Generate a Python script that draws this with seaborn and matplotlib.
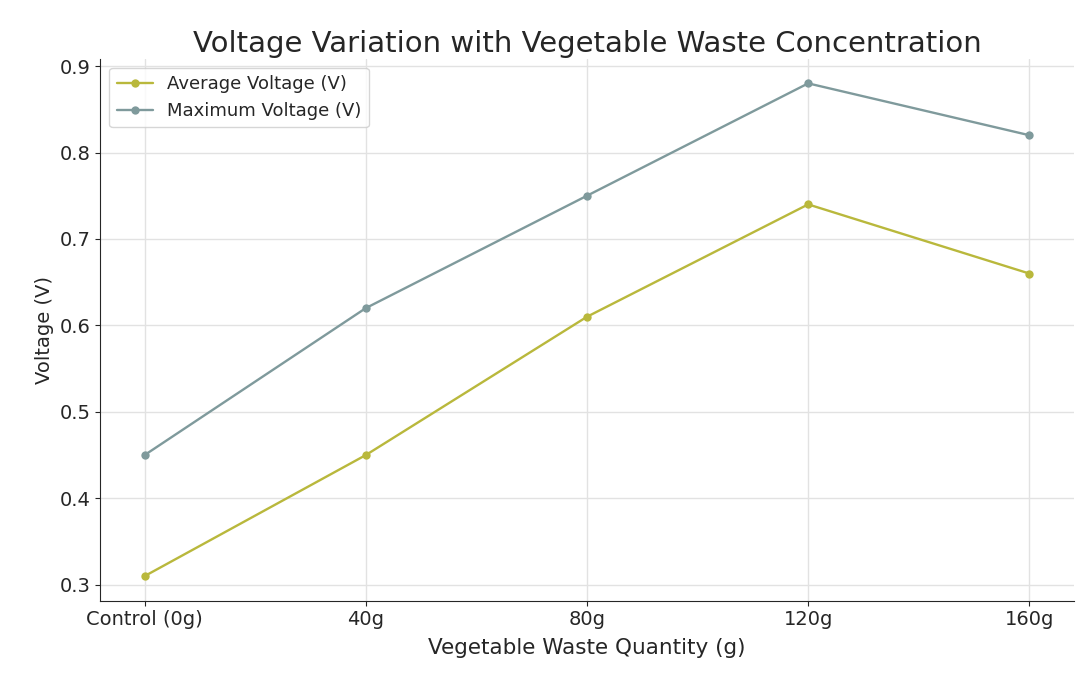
import pandas as pd
import matplotlib
matplotlib.use("Agg")
import matplotlib.pyplot as plt
import seaborn as sns

quantities = ["Control (0g)", "40g", "80g", "120g", "160g"]
avg_voltage = [0.31, 0.45, 0.61, 0.74, 0.66]
max_voltage = [0.45, 0.62, 0.75, 0.88, 0.82]

df = pd.DataFrame({
    "Quantity": quantities * 2,
    "Voltage": avg_voltage + max_voltage,
    "Series": ["Average Voltage (V)"] * 5 + ["Maximum Voltage (V)"] * 5,
})

sns.set_style("ticks")
plt.rcParams["font.family"] = ["DejaVu Sans"]

fig, ax = plt.subplots(figsize=(10.79, 6.75), dpi=100)
sns.lineplot(data=df, x="Quantity", y="Voltage", hue="Series", sort=False,
             marker="o", markersize=6, linewidth=1.7, markeredgewidth=0,
             palette=["#b9b83c", "#7f9a9c"], ax=ax)

ax.set_title("Voltage Variation with Vegetable Waste Concentration", fontsize=21, pad=5)
ax.set_xlabel("Vegetable Waste Quantity (g)", fontsize=15.5, labelpad=6)
ax.set_ylabel("Voltage (V)", fontsize=14)
ax.tick_params(labelsize=14)
ax.grid(True, color="#e2e2e2", linewidth=1)
sns.despine(ax=ax)
ax.legend(title=None, loc="upper left", fontsize=13, frameon=True)

fig.subplots_adjust(left=0.093, right=0.995, top=0.913, bottom=0.11)
fig.savefig("out.png", dpi=100)
